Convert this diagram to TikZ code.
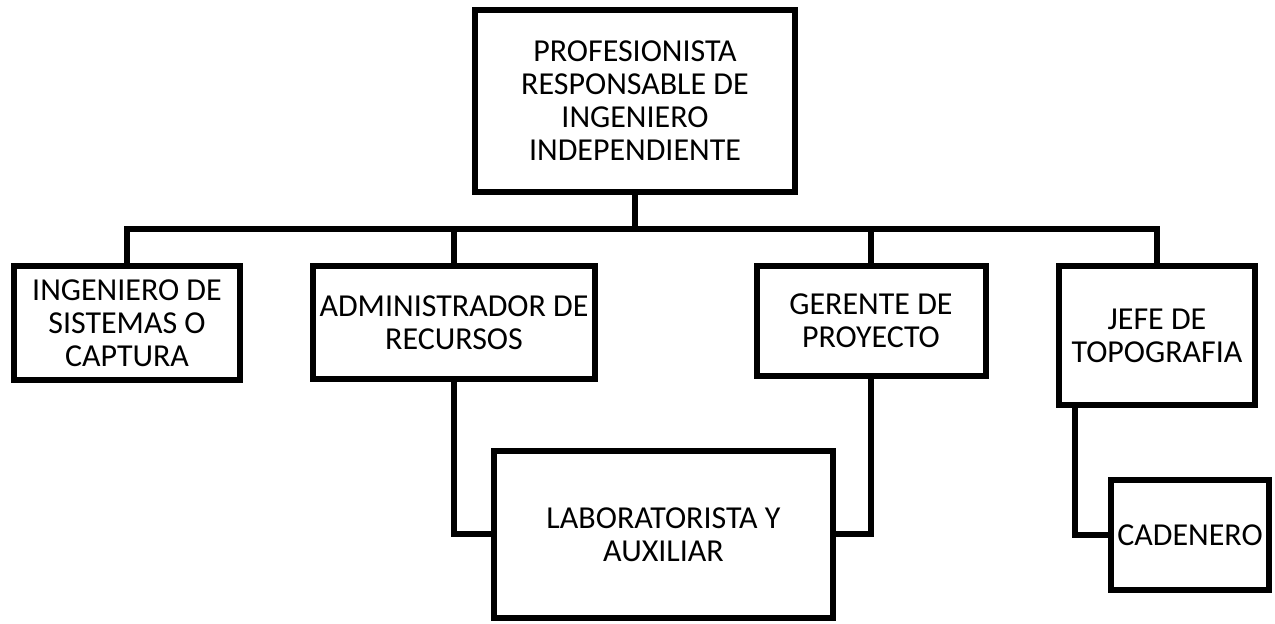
\documentclass[tikz,border=0pt]{standalone}
\usepackage{fontspec}
\setmainfont{Carlito}
\usetikzlibrary{positioning,calc}

\begin{document}
\begin{tikzpicture}[
        x=0.02cm, y=-0.02cm,
        % Estilo para las cajas
        node style/.style = {
            draw,
            rectangle,
            line width=0.12cm,
            align=center,
            inner sep=0pt,
            font=\fontsize{18.2}{18.8}\selectfont
        },
        % Estilo de las lineas
        edge line/.style = {
            line width=0.12cm,
            line join=miter
        }
    ]
    \useasboundingbox (0,0) rectangle (1275,624);

    % Caja principal
    \node[node style, minimum width=320*0.02cm, minimum height=182*0.02cm] (prof) at (635,101)
        {PROFESIONISTA\\RESPONSABLE DE\\INGENIERO\\INDEPENDIENTE};

    % Segundo nivel
    \node[node style, minimum width=226*0.02cm, minimum height=114*0.02cm] (ing) at (127,323)
        {INGENIERO DE\\SISTEMAS O\\CAPTURA};
    \node[node style, minimum width=282*0.02cm, minimum height=113*0.02cm] (adm) at (454,322.5)
        {ADMINISTRADOR DE\\RECURSOS};
    \node[node style, minimum width=229*0.02cm, minimum height=110*0.02cm] (ger) at (871,321)
        {GERENTE DE\\PROYECTO};
    \node[node style, minimum width=196*0.02cm, minimum height=139*0.02cm] (jefe) at (1157,335.5)
        {JEFE DE\\TOPOGRAFIA};

    % Tercer nivel
    \node[node style, minimum width=339*0.02cm, minimum height=167*0.02cm] (lab) at (663.5,534.5)
        {LABORATORISTA Y\\AUXILIAR};
    \node[node style, minimum width=158*0.02cm, minimum height=110*0.02cm] (cad) at (1190,535)
        {CADENERO};

    % Conexiones
    \coordinate (bus) at (635,229);
    \draw[edge line] (prof.south) -- (bus);
    \draw[edge line] (ing.north) |- (bus) -| (jefe.north);
    \draw[edge line] (adm.north) -- (adm.north |- bus);
    \draw[edge line] (ger.north) -- (ger.north |- bus);
    \draw[edge line] (adm.south) |- (lab.west);
    \draw[edge line] (ger.south) |- (lab.east);
    \draw[edge line] ($(jefe.south west)+(19,0)$) |- (cad.west);
\end{tikzpicture}
\end{document}
